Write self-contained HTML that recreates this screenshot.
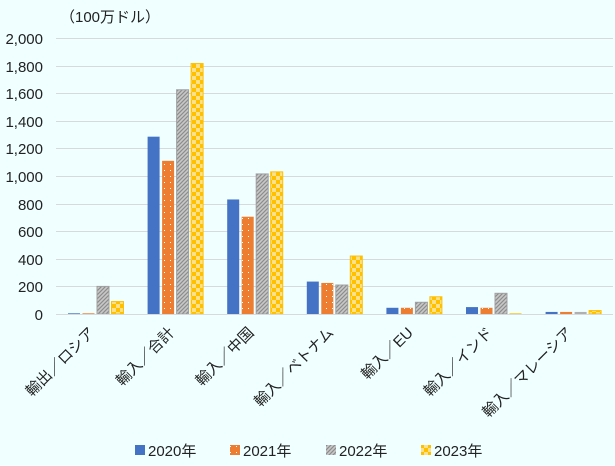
<!DOCTYPE html>
<html><head><meta charset="utf-8"><style>
html,body{margin:0;padding:0;background:#f0ffff;}
svg{display:block;font-family:"Liberation Sans","Noto Sans CJK JP",sans-serif;}
</style></head><body>
<svg width="615" height="466" viewBox="0 0 615 466">
<defs>
<pattern id="dots" width="6" height="6" patternUnits="userSpaceOnUse"><rect width="6" height="6" fill="#ed7d31"/><rect x="2" y="2" width="1" height="1" fill="#fff"/></pattern>
<pattern id="diag" width="4" height="4" patternUnits="userSpaceOnUse"><rect width="4" height="4" fill="#c8c8c8"/><path d="M-1,5 L5,-1 M-1,1 L1,-1 M3,5 L5,3" stroke="#8c8c8c" stroke-width="1.2"/></pattern>
<pattern id="check" width="8" height="8" patternUnits="userSpaceOnUse"><rect width="8" height="8" fill="#ffe08a"/><rect width="4" height="4" fill="#ffc000"/><rect x="4" y="4" width="4" height="4" fill="#ffc000"/></pattern>
</defs>
<rect width="615" height="466" fill="#f0ffff"/>
<text x="60" y="22" font-size="15" fill="#222">（100万ドル）</text>
<g stroke="#d9d9d9" stroke-width="1">
<line x1="56" x2="613" y1="38.5" y2="38.5"/><line x1="56" x2="613" y1="66.5" y2="66.5"/><line x1="56" x2="613" y1="93.5" y2="93.5"/><line x1="56" x2="613" y1="121.5" y2="121.5"/><line x1="56" x2="613" y1="148.5" y2="148.5"/><line x1="56" x2="613" y1="176.5" y2="176.5"/><line x1="56" x2="613" y1="204.5" y2="204.5"/><line x1="56" x2="613" y1="231.5" y2="231.5"/><line x1="56" x2="613" y1="259.5" y2="259.5"/><line x1="56" x2="613" y1="286.5" y2="286.5"/>
</g>
<g font-size="15" fill="#222" text-anchor="end">
<text x="43" y="44">2,000</text><text x="43" y="72">1,800</text><text x="43" y="99">1,600</text><text x="43" y="127">1,400</text><text x="43" y="154">1,200</text><text x="43" y="182">1,000</text><text x="43" y="210">800</text><text x="43" y="237">600</text><text x="43" y="265">400</text><text x="43" y="292">200</text><text x="43" y="320">0</text>
</g>
<g>
<rect x="68" y="313.31" width="12" height="0.69" fill="#4472c4"/>
<rect x="82.5" y="313.31" width="12" height="0.69" fill="#ed7d31"/>
<rect x="97" y="286.4" width="12" height="27.6" fill="url(#diag)" stroke="#a0a0a0"/>
<rect x="111.5" y="301.58" width="12" height="12.42" fill="url(#check)" stroke="#ffc000"/>

<rect x="147.6" y="136.67" width="12" height="177.33" fill="#4472c4"/>
<rect x="162.1" y="160.82" width="12" height="153.18" fill="url(#dots)"/>
<rect x="176.6" y="89.75" width="12" height="224.25" fill="url(#diag)" stroke="#a0a0a0"/>
<rect x="191.1" y="63.53" width="12" height="250.47" fill="url(#check)" stroke="#ffc000"/>

<rect x="227.2" y="199.46" width="12" height="114.54" fill="#4472c4"/>
<rect x="241.7" y="216.71" width="12" height="97.29" fill="url(#dots)"/>
<rect x="256.2" y="173.93" width="12" height="140.07" fill="url(#diag)" stroke="#a0a0a0"/>
<rect x="270.7" y="171.86" width="12" height="142.14" fill="url(#check)" stroke="#ffc000"/>

<rect x="306.8" y="281.57" width="12" height="32.43" fill="#4472c4"/>
<rect x="321.3" y="282.95" width="12" height="31.05" fill="url(#dots)"/>
<rect x="335.8" y="285.02" width="12" height="28.98" fill="url(#diag)" stroke="#a0a0a0"/>
<rect x="350.3" y="256.04" width="12" height="57.96" fill="url(#check)" stroke="#ffc000"/>

<rect x="386.4" y="307.79" width="12" height="6.21" fill="#4472c4"/>
<rect x="400.9" y="307.79" width="12" height="6.21" fill="url(#dots)"/>
<rect x="415.4" y="302.27" width="12" height="11.73" fill="url(#diag)" stroke="#a0a0a0"/>
<rect x="429.9" y="296.75" width="12" height="17.25" fill="url(#check)" stroke="#ffc000"/>

<rect x="466" y="307.1" width="12" height="6.9" fill="#4472c4"/>
<rect x="480.5" y="307.79" width="12" height="6.21" fill="url(#dots)"/>
<rect x="495" y="293.3" width="12" height="20.7" fill="url(#diag)" stroke="#a0a0a0"/>
<rect x="509.5" y="313.31" width="12" height="0.69" fill="#ffc000"/>

<rect x="545.6" y="311.93" width="12" height="2.07" fill="#4472c4"/>
<rect x="560.1" y="311.93" width="12" height="2.07" fill="#ed7d31"/>
<rect x="574.6" y="311.93" width="12" height="2.07" fill="#b0b0b0"/>
<rect x="589.1" y="310.55" width="12" height="3.45" fill="url(#check)" stroke="#ffc000"/>
</g>
<line x1="56" x2="613" y1="314.5" y2="314.5" stroke="#d9d9d9"/>
<g font-size="15" fill="#222" text-anchor="end">
<text transform="translate(92,330) rotate(-45)" y="5">輸出／ロシア</text>
<text transform="translate(171.6,330) rotate(-45)" y="5">輸入／合計</text>
<text transform="translate(251.2,330) rotate(-45)" y="5">輸入／中国</text>
<text transform="translate(330.8,330) rotate(-45)" y="5">輸入／ベトナム</text>
<text transform="translate(410.4,330) rotate(-45)" y="5">輸入／EU</text>
<text transform="translate(490,330) rotate(-45)" y="5">輸入／インド</text>
<text transform="translate(569.6,330) rotate(-45)" y="5">輸入／マレーシア</text>
</g>
<g font-size="15" fill="#222">
<rect x="135" y="445" width="10" height="10" fill="#4472c4"/><text x="148" y="456">2020年</text>
<rect x="230" y="445" width="10" height="10" fill="url(#dots)"/><text x="243" y="456">2021年</text>
<rect x="326" y="445" width="10" height="10" fill="url(#diag)"/><text x="339" y="456">2022年</text>
<rect x="421" y="445" width="10" height="10" fill="url(#check)"/><text x="434" y="456">2023年</text>
</g>
</svg>
</body></html>
